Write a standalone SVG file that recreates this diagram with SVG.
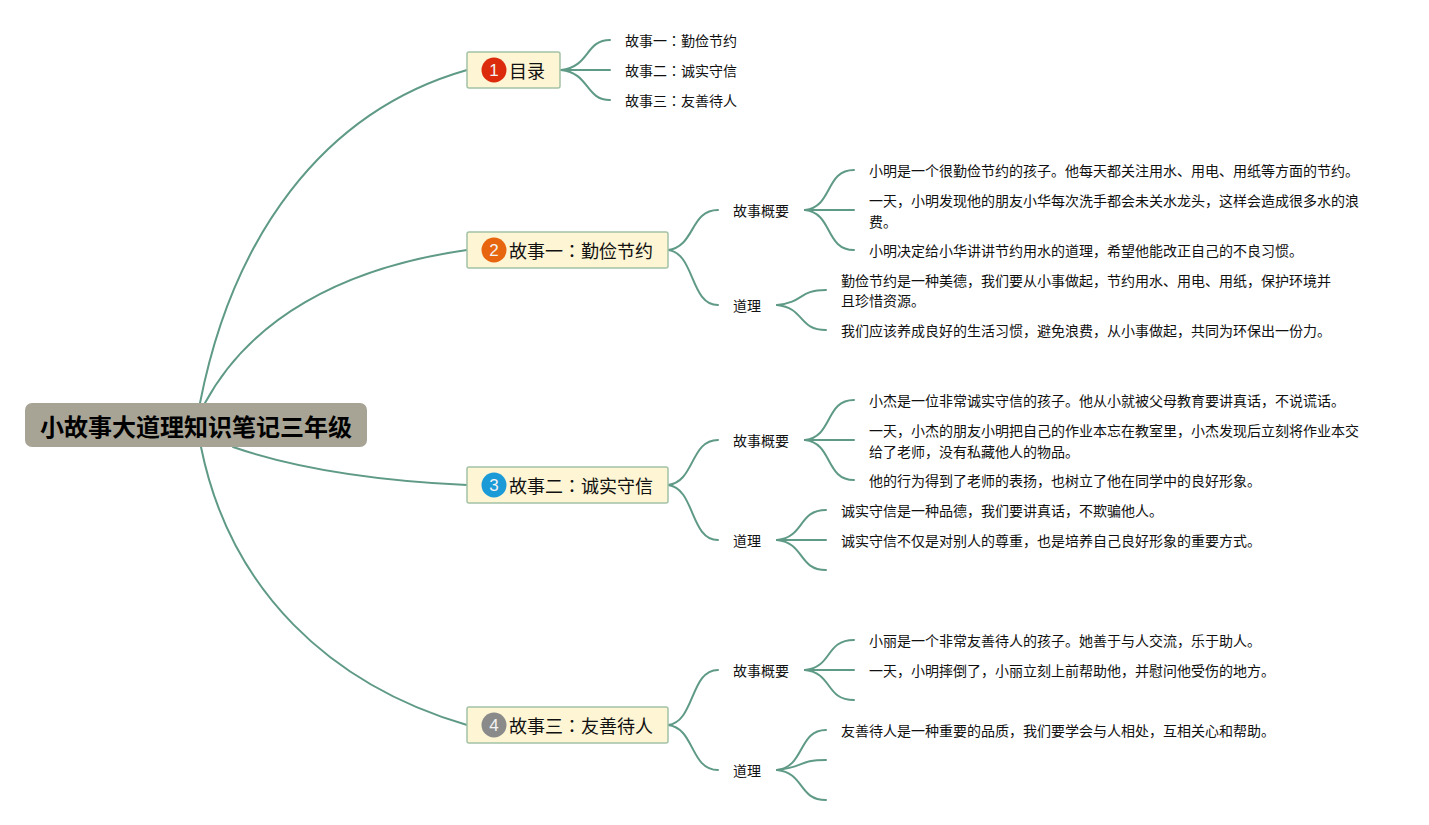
<svg xmlns="http://www.w3.org/2000/svg" width="1429" height="825" viewBox="0 0 1429 825">
<style>
text{font-family:"Noto Sans CJK SC","Noto Sans",sans-serif;fill:#111}
.c{fill:none;stroke:#5f9a86;stroke-width:2;stroke-linecap:round}
.b{fill:#fdf5d4;stroke:#a3c2a6;stroke-width:1.5}
.m{font-size:18px}
.s{font-size:14px}
.k{font-family:"Noto Sans CJK JP",sans-serif}
.n{font-family:"Liberation Sans",sans-serif;font-size:17px;fill:#f3f3f3;text-anchor:middle}
</style>
<rect width="1429" height="825" fill="#fff"/>
<g id="connectors">
<path class="c" d="M200 403C232 240 320 112 467 70"/>
<path class="c" d="M205 403C250 320 340 268 467 250"/>
<path class="c" d="M233 447C300 470 380 481 467 485"/>
<path class="c" d="M201 447C230 590 330 685 467 725"/>
<path class="c" d="M561 70C590 67 585 40 610 40"/>
<path class="c" d="M561 70H610"/>
<path class="c" d="M561 70C590 73 585 100 610 100"/>
<path class="c" d="M668 250C695 247 690 210 718 210"/>
<path class="c" d="M668 250C695 253 690 305 718 305"/>
<path class="c" d="M805 210C833 207 825 170 854 170"/>
<path class="c" d="M805 210H854"/>
<path class="c" d="M805 210C833 213 825 250 854 250"/>
<path class="c" d="M777 305C805 302 798 290 826 290"/>
<path class="c" d="M777 305C805 308 798 330 826 330"/>
<path class="c" d="M668 485C695 482 690 440 718 440"/>
<path class="c" d="M668 485C695 488 690 540 718 540"/>
<path class="c" d="M805 440C833 437 825 400 854 400"/>
<path class="c" d="M805 440H854"/>
<path class="c" d="M805 440C833 443 825 480 854 480"/>
<path class="c" d="M777 540C805 537 798 510 826 510"/>
<path class="c" d="M777 540H826"/>
<path class="c" d="M777 540C805 543 798 570 826 570"/>
<path class="c" d="M668 725C695 722 690 670 718 670"/>
<path class="c" d="M668 725C695 728 690 770 718 770"/>
<path class="c" d="M805 670C833 667 825 640 854 640"/>
<path class="c" d="M805 670H854"/>
<path class="c" d="M805 670C833 673 825 700 854 700"/>
<path class="c" d="M777 770C805 767 798 730 826 730"/>
<path class="c" d="M777 770C805 767 798 760 826 760"/>
<path class="c" d="M777 770C805 773 798 800 826 800"/>
</g>
<g id="root"><rect x="25" y="403" width="342" height="44" rx="7" fill="#a7a496"/><text x="40" y="436" font-size="24" font-weight="700" style="fill:#000">小故事大道理知识笔记三年级</text></g>
<g id="n1"><rect class="b" x="467" y="52" width="93" height="36" rx="2"/><circle cx="494" cy="70" r="12.5" fill="#dc2a0c"/><text class="n" x="494" y="76">1</text><text class="m" x="509" y="78">目录</text></g>
<g id="n2"><rect class="b" x="467" y="232" width="201" height="36" rx="2"/><circle cx="494" cy="250" r="12.5" fill="#e8650f"/><text class="n" x="494" y="256">2</text><text class="m" x="509" y="258">故事一<tspan class="k">：</tspan>勤俭节约</text></g>
<g id="n3"><rect class="b" x="467" y="467" width="201" height="36" rx="2"/><circle cx="494" cy="485" r="12.5" fill="#1a9bd8"/><text class="n" x="494" y="491">3</text><text class="m" x="509" y="493">故事二<tspan class="k">：</tspan>诚实守信</text></g>
<g id="n4"><rect class="b" x="467" y="707" width="201" height="36" rx="2"/><circle cx="494" cy="725" r="12.5" fill="#8a8a8a"/><text class="n" x="494" y="731">4</text><text class="m" x="509" y="733">故事三<tspan class="k">：</tspan>友善待人</text></g>
<g id="toc" class="s">
<text x="625" y="46">故事一<tspan class="k">：</tspan>勤俭节约</text><text x="625" y="76">故事二<tspan class="k">：</tspan>诚实守信</text><text x="625" y="106">故事三<tspan class="k">：</tspan>友善待人</text>
</g>
<g id="story1" class="s">
<text x="733" y="216">故事概要</text><text x="733" y="311">道理</text>
<text x="869" y="176">小明是一个很勤俭节约的孩子。他每天都关注用水、用电、用纸等方面的节约。</text>
<text x="869" y="206">一天，小明发现他的朋友小华每次洗手都会未关水龙头，这样会造成很多水的浪</text><text x="869" y="227">费。</text>
<text x="869" y="256">小明决定给小华讲讲节约用水的道理，希望他能改正自己的不良习惯。</text>
<text x="841" y="286">勤俭节约是一种美德，我们要从小事做起，节约用水、用电、用纸，保护环境并</text><text x="841" y="306">且珍惜资源。</text>
<text x="841" y="336">我们应该养成良好的生活习惯，避免浪费，从小事做起，共同为环保出一份力。</text>
</g>
<g id="story2" class="s">
<text x="733" y="446">故事概要</text><text x="733" y="546">道理</text>
<text x="869" y="406">小杰是一位非常诚实守信的孩子。他从小就被父母教育要讲真话，不说谎话。</text>
<text x="869" y="436">一天，小杰的朋友小明把自己的作业本忘在教室里，小杰发现后立刻将作业本交</text><text x="869" y="457">给了老师，没有私藏他人的物品。</text>
<text x="869" y="486">他的行为得到了老师的表扬，也树立了他在同学中的良好形象。</text>
<text x="841" y="516">诚实守信是一种品德，我们要讲真话，不欺骗他人。</text>
<text x="841" y="546">诚实守信不仅是对别人的尊重，也是培养自己良好形象的重要方式。</text>
</g>
<g id="story3" class="s">
<text x="733" y="676">故事概要</text><text x="733" y="776">道理</text>
<text x="869" y="646">小丽是一个非常友善待人的孩子。她善于与人交流，乐于助人。</text>
<text x="869" y="676">一天，小明摔倒了，小丽立刻上前帮助他，并慰问他受伤的地方。</text>
<text x="841" y="736">友善待人是一种重要的品质，我们要学会与人相处，互相关心和帮助。</text>
</g>
</svg>
